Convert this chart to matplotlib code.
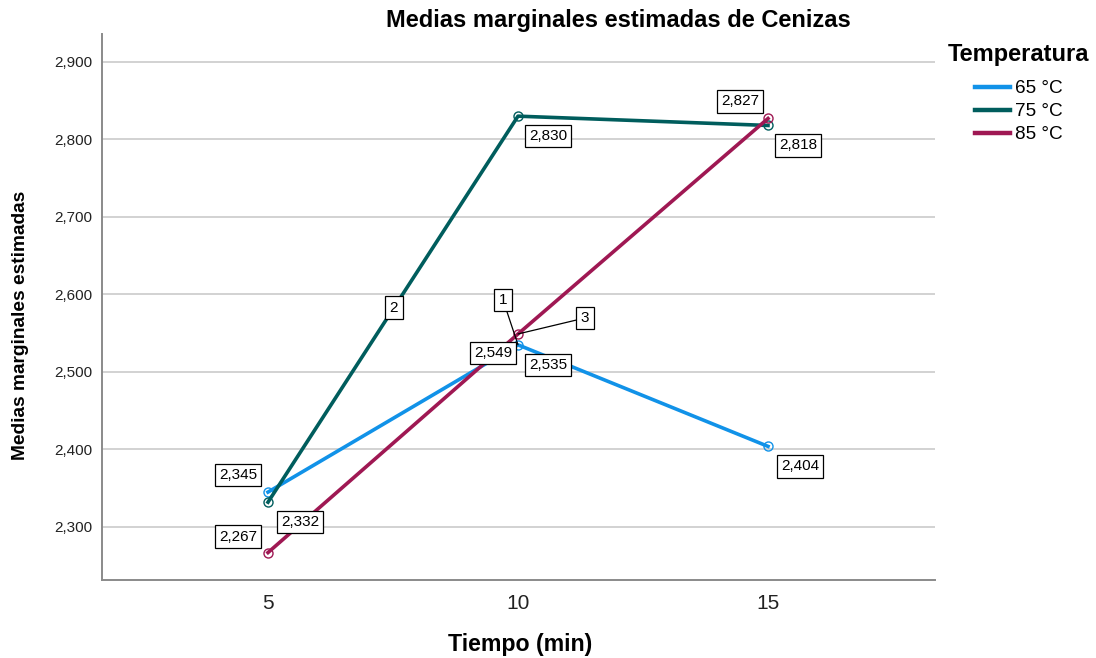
import matplotlib
matplotlib.use("Agg")
import matplotlib.pyplot as plt
from matplotlib.ticker import FuncFormatter

plt.rcParams['font.family'] = ['Liberation Sans', 'DejaVu Sans']

# ---- data ----
tiempo = [5, 10, 15]
series_names = ["65 °C", "75 °C", "85 °C"]
medias_65 = [2.345, 2.535, 2.404]
medias_75 = [2.332, 2.830, 2.818]
medias_85 = [2.267, 2.549, 2.827]
series_ids = ["1", "2", "3"]
y_ticks = [2.3, 2.4, 2.5, 2.6, 2.7, 2.8, 2.9]

# ---- styles ----
colors = ["#1192E8", "#005D5D", "#9F1853"]
# label offsets in pixels (dx, dy) for each series/point
label_offsets = [
    [(-30, 17), (30, -20), (32, -20)],
    [(32, -20), (30, -20), (30, -20)],
    [(-30, 16), (-25, -19), (-28, 17)],
]

def fmt(v):
    return f"{v:.3f}".replace(".", ",")

fig = plt.figure(figsize=(10.96, 6.58), dpi=100)
ax = fig.add_axes([102/1096, 78/658, (935-102)/1096, (580-34)/658])

all_series = [medias_65, medias_75, medias_85]
for name, vals, c in zip(series_names, all_series, colors):
    ax.plot(tiempo, vals, color=c, lw=2.6, label=name, zorder=3,
            marker='o', markersize=6.5, markerfacecolor='none',
            markeredgecolor=c, markeredgewidth=1.0)

bbox = dict(boxstyle='square,pad=0.28', fc='white', ec='black', lw=0.9)
for vals, offs in zip(all_series, label_offsets):
    for x, v, (dx, dy) in zip(tiempo, vals, offs):
        ax.annotate(fmt(v), xy=(x, v), xytext=(dx, dy),
                    textcoords='offset pixels', ha='center', va='center',
                    fontsize=11, bbox=bbox, zorder=5)

# series id labels
ax.annotate(series_ids[1], xy=(7.52, medias_75[0] + (medias_75[1]-medias_75[0])*0.504),
            ha='center', va='center', fontsize=11, bbox=bbox, zorder=5)
ax.annotate(series_ids[0], xy=(10, medias_65[1]), xytext=(-15, 45),
            textcoords='offset pixels', ha='center', va='center', fontsize=11,
            bbox=bbox, zorder=5,
            arrowprops=dict(arrowstyle='-', color='black', lw=0.9, shrinkA=0, shrinkB=0))
ax.annotate(series_ids[2], xy=(10, medias_85[1]), xytext=(67, 16),
            textcoords='offset pixels', ha='center', va='center', fontsize=11,
            bbox=bbox, zorder=5,
            arrowprops=dict(arrowstyle='-', color='black', lw=0.9, shrinkA=0, shrinkB=0))

ax.set_xlim(1.68, 18.34)
ax.set_ylim(2.2316, 2.936)
ax.set_xticks(tiempo)
ax.set_xticklabels([str(t) for t in tiempo])
ax.set_yticks(y_ticks)
ax.yaxis.set_major_formatter(FuncFormatter(lambda v, p: fmt(v)))
ax.tick_params(axis='both', length=0, colors='#222222')
ax.tick_params(axis='y', labelsize=11, pad=7)
ax.tick_params(axis='x', labelsize=15, pad=10)
ax.yaxis.grid(True, color='#cfcfcf', lw=1.3, zorder=0)
ax.set_axisbelow(True)
for s in ['top', 'right']:
    ax.spines[s].set_visible(False)
for s in ['left', 'bottom']:
    ax.spines[s].set_color('#8a8a8a')
    ax.spines[s].set_linewidth(1.4)

fig.text(618/1096, 1 - 20/658, "Medias marginales estimadas de Cenizas",
         ha='center', va='center', fontsize=17, fontweight='bold')
fig.text(520/1096, 1 - 645/658, "Tiempo (min)", ha='center', va='center',
         fontsize=16.7, fontweight='bold')
fig.text(21/1096, 1 - 325/658, "Medias marginales estimadas", ha='center', va='center',
         rotation=90, fontsize=13.8, fontweight='bold')

fig.text(1019/1096, 1 - 54/658, "Temperatura", ha='center', va='center',
         fontsize=17, fontweight='bold')
leg = fig.legend(loc='upper left', bbox_to_anchor=(975/1096, 1 - 80/658),
                 frameon=False, fontsize=13.7,
                 handlelength=1.84, handletextpad=0.26, labelspacing=0.3,
                 borderaxespad=0, borderpad=0)
for h in leg.legend_handles:
    h.set_marker('')
    h.set_linewidth(3.2)

fig.savefig("out.png", dpi=100)
